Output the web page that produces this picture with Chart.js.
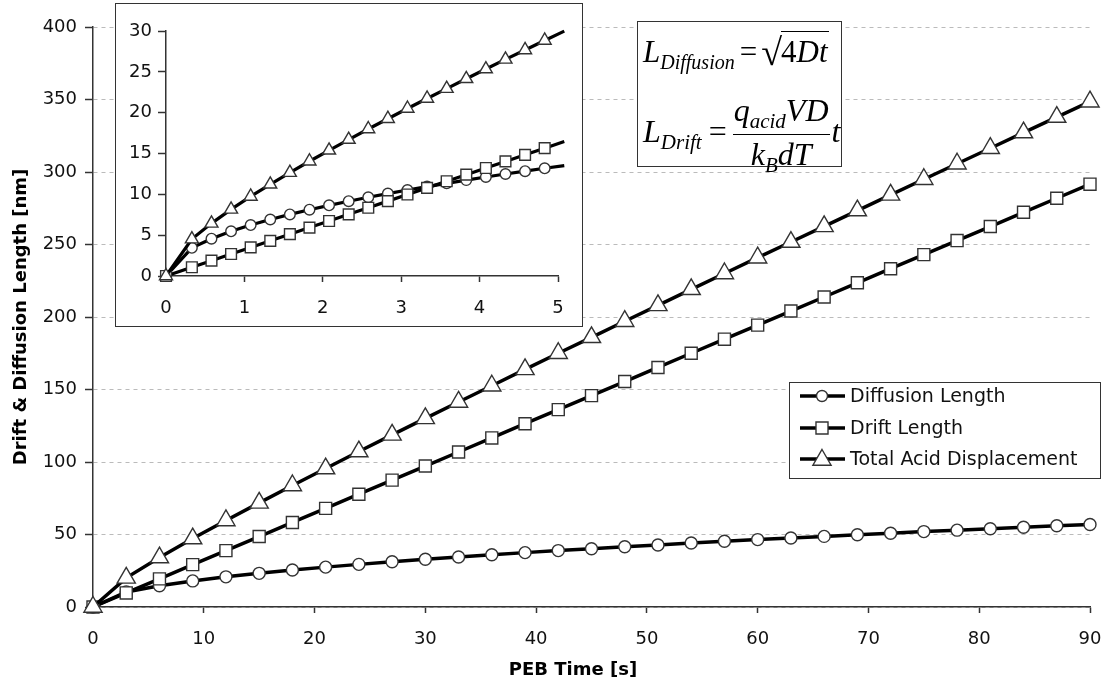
<!DOCTYPE html>
<html lang="en">
<head>
  <meta charset="UTF-8" />
  <title>Drift & Diffusion Length</title>
  <script src="https://cdn.jsdelivr.net/npm/chart.js"></script>
  <style>
    body { margin: 0; background: #fff; }
    .wrap { position: relative; width: 1102px; height: 687px; overflow: hidden; }
    #mainChart { position: absolute; left: 0; top: 0; }
    .inset {
      position: absolute; left: 115px; top: 3px;
      width: 466px; height: 322px;
      border: 1px solid #333; background: #fff;
    }
    .formula {
      position: absolute; left: 637px; top: 21px;
      width: 203px; height: 144px;
      border: 1px solid #333; background: #fff;
      font-family: 'Liberation Serif', 'DejaVu Serif', serif;
      color: #000;
    }
    .formula i { font-style: italic; }
    .f1, .f2 { position: absolute; left: 5px; white-space: nowrap; font-size: 32px; line-height: 1; }
    .f1 { top: 11px; font-size: 31px; }
    .f2 { top: 72px; }
    .formula sub { font-size: 21px; font-style: italic; vertical-align: -7px; }
    .f1 sub { font-size: 20px; }
    .eq { margin: 0 6px 0 7px; }
    .f1 .eq { margin: 0 4px 0 5px; }
    .rad { font-size: 38px; display: inline-block; vertical-align: -3px; margin-right: -1px; }
    .ov { border-top: 1.5px solid #000; padding-top: 2px; padding-right: 1px; }
    .frac { display: inline-flex; flex-direction: column; align-items: center; vertical-align: middle; margin-right: 2px; }
    .num { border-bottom: 1.5px solid #000; padding: 0 1px 2px; }
    .den { padding-top: 3px; }
  </style>
</head>
<body>
<div class="wrap">
  <canvas id="mainChart" width="1102" height="687"></canvas>

  <div class="inset">
    <canvas id="insetChart" width="466" height="322"></canvas>
  </div>

  <div class="formula">
    <div class="f1"><i>L</i><sub>Diffusion</sub><span class="eq">=</span><span class="rad">√</span><span class="ov">4<i>Dt</i></span></div>
    <div class="f2"><i>L</i><sub>Drift</sub><span class="eq">=</span><span class="frac"><span class="num"><i>q</i><sub>acid</sub><i>VD</i></span><span class="den"><i>k</i><sub>B</sub><i>dT</i></span></span><i>t</i></div>
  </div>
</div>

<script>
  // main plot, every 3 s
  const timeMain = [0, 3, 6, 9, 12, 15, 18, 21, 24, 27, 30, 33, 36, 39, 42, 45,
                    48, 51, 54, 57, 60, 63, 66, 69, 72, 75, 78, 81, 84, 87, 90];
  const diffusionMain = [0, 10.4, 14.7, 18.0, 20.8, 23.2, 25.5, 27.5, 29.4, 31.2, 32.9, 34.5, 36.0, 37.5, 38.9, 40.2,
                         41.6, 42.8, 44.1, 45.3, 46.5, 47.6, 48.7, 49.8, 50.9, 52.0, 53.0, 54.0, 55.0, 56.0, 56.9];
  const driftMain = [0, 9.7, 19.4, 29.2, 38.9, 48.6, 58.3, 68.0, 77.8, 87.5, 97.2, 106.9, 116.6, 126.4, 136.1, 145.8,
                     155.5, 165.2, 175.0, 184.7, 194.4, 204.1, 213.8, 223.6, 233.3, 243.0, 252.7, 262.4, 272.2, 281.9, 291.6];
  const totalMain = [0, 20.1, 34.1, 47.2, 59.7, 71.8, 83.8, 95.5, 107.2, 118.7, 130.1, 141.4, 152.6, 163.9, 175.0, 186.0,
                     197.1, 208.0, 219.1, 230.0, 240.9, 251.7, 262.5, 273.4, 284.2, 295.0, 305.7, 316.4, 327.2, 337.9, 348.5];
  const xTicksMain = [0, 10, 20, 30, 40, 50, 60, 70, 80, 90];
  const yTicksMain = [0, 50, 100, 150, 200, 250, 300, 350, 400];

  // inset, first 5 s
  const timeInset = [0, 0.33, 0.58, 0.83, 1.08, 1.33, 1.58, 1.83, 2.08, 2.33, 2.58,
                     2.83, 3.08, 3.33, 3.58, 3.83, 4.08, 4.33, 4.58, 4.83, 5.08];
  const diffusionInset = [0, 3.45, 4.57, 5.47, 6.24, 6.92, 7.54, 8.12, 8.65, 9.16, 9.64,
                          10.09, 10.53, 10.95, 11.35, 11.74, 12.12, 12.49, 12.84, 13.19, 13.52];
  const driftInset = [0, 1.07, 1.88, 2.69, 3.50, 4.31, 5.12, 5.93, 6.74, 7.55, 8.36,
                      9.17, 9.98, 10.79, 11.60, 12.41, 13.22, 14.03, 14.84, 15.65, 16.46];
  const totalInset = [0, 4.52, 6.45, 8.16, 9.74, 11.23, 12.66, 14.05, 15.39, 16.71, 18.00,
                      19.26, 20.51, 21.74, 22.95, 24.15, 25.34, 26.52, 27.68, 28.84, 29.98];
  const xTicksInset = [0, 1, 2, 3, 4, 5];
  const yTicksInset = [0, 5, 10, 15, 20, 25, 30];

  const seriesNames = ['Diffusion Length', 'Drift Length', 'Total Acid Displacement'];
  const tickFont = { family: 'DejaVu Sans', size: 18 };

  function series(label, xs, ys, style, r, width, order, lastHidden) {
    return {
      label: label,
      data: xs.map((x, i) => ({ x: x, y: ys[i] })),
      borderColor: '#000',
      borderWidth: width,
      pointStyle: style,
      pointRadius: xs.map((x, i) => (lastHidden && i === xs.length - 1) ? 0 : r),
      pointBackgroundColor: '#fff',
      pointBorderColor: '#333',
      pointBorderWidth: 1.4,
      tension: 0,
      clip: false,
      order: order
    };
  }

  function fixedTicks(list) {
    return scale => { scale.ticks = list.map(v => ({ value: v })); };
  }

  // legend + x title drawn by hand (legend needs line + marker samples)
  function drawMarker(ctx, style, x, y, r) {
    ctx.beginPath();
    if (style === 'circle') {
      ctx.arc(x, y, r, 0, Math.PI * 2);
    } else if (style === 'rect') {
      const s = r * Math.SQRT1_2;
      ctx.rect(x - s, y - s, 2 * s, 2 * s);
    } else {
      ctx.moveTo(x, y - r);
      ctx.lineTo(x + r * 0.866, y + r * 0.5);
      ctx.lineTo(x - r * 0.866, y + r * 0.5);
      ctx.closePath();
    }
    ctx.fillStyle = '#fff';
    ctx.fill();
    ctx.lineWidth = 1.4;
    ctx.strokeStyle = '#333';
    ctx.stroke();
  }

  const overlayPlugin = {
    id: 'overlay',
    afterDraw(chart) {
      const ctx = chart.ctx;
      ctx.save();
      ctx.font = 'bold 18px "DejaVu Sans"';
      ctx.fillStyle = '#000';
      ctx.textAlign = 'center';
      ctx.textBaseline = 'middle';
      ctx.fillText('PEB Time [s]', 573, 670);

      ctx.fillStyle = '#fff';
      ctx.fillRect(789, 382, 311, 96);
      ctx.strokeStyle = '#333';
      ctx.lineWidth = 1;
      ctx.strokeRect(789.5, 382.5, 311, 96);

      const styles = [['circle', 5.5], ['rect', 8.5], ['triangle', 10.5]];
      const rows = [396, 428, 459];
      ctx.font = '19px "DejaVu Sans"';
      ctx.textAlign = 'left';
      rows.forEach((y, i) => {
        ctx.beginPath();
        ctx.moveTo(800, y);
        ctx.lineTo(845, y);
        ctx.lineWidth = 3.5;
        ctx.strokeStyle = '#000';
        ctx.stroke();
        drawMarker(ctx, styles[i][0], 822, i === 2 ? y + 1 : y, styles[i][1]);
        ctx.fillStyle = '#111';
        ctx.fillText(seriesNames[i], 850, y + 1);
      });
      ctx.restore();
    }
  };

  new Chart(document.getElementById('mainChart'), {
    type: 'line',
    data: {
      datasets: [
        series(seriesNames[0], timeMain, diffusionMain, 'circle', 6, 3.5, 2, false),
        series(seriesNames[1], timeMain, driftMain, 'rect', 8.5, 3.5, 1, false),
        series(seriesNames[2], timeMain, totalMain, 'triangle', 10.5, 3.5, 0, false)
      ]
    },
    options: {
      responsive: false,
      animation: false,
      layout: { padding: { top: 27, right: 0, left: 0, bottom: 0 } },
      plugins: { legend: { display: false }, tooltip: { enabled: false } },
      scales: {
        x: {
          type: 'linear', min: 0, max: 90,
          afterBuildTicks: fixedTicks(xTicksMain),
          afterFit: s => { s.height = 80; s.paddingRight = 12; },
          grid: { drawOnChartArea: false, tickLength: 6, tickColor: '#333', tickWidth: 1.5 },
          border: { color: '#333', width: 1.5 },
          ticks: { font: tickFont, color: '#111', padding: 16, maxRotation: 0 }
        },
        y: {
          min: 0, max: 400,
          afterBuildTicks: fixedTicks(yTicksMain),
          afterFit: s => { s.width = 93; s.paddingTop = 0; },
          grid: { color: '#bbb', lineWidth: 1, tickLength: 8, tickColor: '#333', tickWidth: 1.5, tickBorderDash: [] },
          border: { color: '#333', width: 1.5, dash: [4, 4] },
          ticks: { font: tickFont, color: '#111', padding: 8 },
          title: {
            display: true, text: 'Drift & Diffusion Length [nm]', color: '#000',
            font: { family: 'DejaVu Sans', size: 18, weight: 'bold' },
            padding: { top: 11, bottom: 0 }
          }
        }
      }
    },
    plugins: [overlayPlugin]
  });

  new Chart(document.getElementById('insetChart'), {
    type: 'line',
    data: {
      datasets: [
        series(seriesNames[0], timeInset, diffusionInset, 'circle', 5.3, 3.2, 2, true),
        series(seriesNames[1], timeInset, driftInset, 'rect', 7.6, 3.2, 1, true),
        series(seriesNames[2], timeInset, totalInset, 'triangle', 7.5, 3.2, 0, true)
      ]
    },
    options: {
      responsive: false,
      animation: false,
      layout: { padding: { top: 27, right: 0, left: 0, bottom: 0 } },
      plugins: { legend: { display: false }, tooltip: { enabled: false } },
      scales: {
        x: {
          type: 'linear', min: 0, max: 5,
          afterBuildTicks: fixedTicks(xTicksInset),
          afterFit: s => { s.height = 50; s.paddingRight = 24; },
          grid: { drawOnChartArea: false, tickLength: 6, tickColor: '#333', tickWidth: 1.5 },
          border: { color: '#333', width: 1.5 },
          ticks: { font: tickFont, color: '#111', padding: 16, maxRotation: 0 }
        },
        y: {
          min: 0, max: 30,
          afterBuildTicks: fixedTicks(yTicksInset),
          afterFit: s => { s.width = 50; s.paddingTop = 0; },
          grid: { drawOnChartArea: false, tickLength: 8, tickColor: '#333', tickWidth: 1.5 },
          border: { color: '#333', width: 1.5 },
          ticks: { font: tickFont, color: '#111', padding: 6 }
        }
      }
    }
  });
</script>
</body>
</html>
